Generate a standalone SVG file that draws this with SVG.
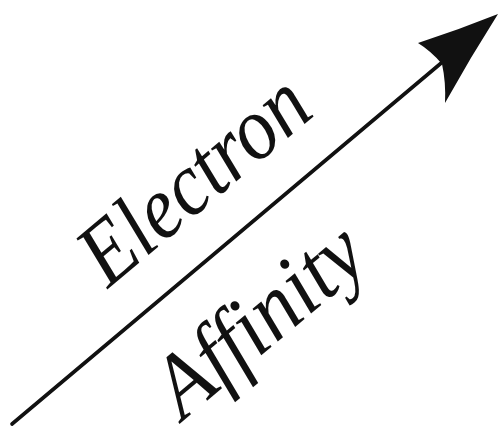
<svg xmlns="http://www.w3.org/2000/svg" width="498" height="428" viewBox="0 0 498 428">
<style>
.lbl{font-family:"Liberation Serif","DejaVu Serif",serif;font-style:italic;font-size:90px;fill:#111}
.ln{stroke:#111;stroke-width:3.6;fill:none;stroke-linecap:round}
</style>
<rect width="498" height="428" fill="#fff"/>
<g id="connectors">
<line class="ln" x1="12" y1="424" x2="446" y2="59"/>
<path d="M498,14 Q470,58 445,103 Q446,82 442,64 Q431,51 418,43 Q458,30 498,14 Z" fill="#111"/>
</g>
<g id="electron">
<text class="lbl" transform="translate(108,289) rotate(-40)" textLength="272" lengthAdjust="spacingAndGlyphs">Electron</text>
</g>
<g id="affinity">
<text class="lbl" transform="translate(183,421) rotate(-40)" textLength="246" lengthAdjust="spacingAndGlyphs">Affinity</text>
</g>
</svg>
